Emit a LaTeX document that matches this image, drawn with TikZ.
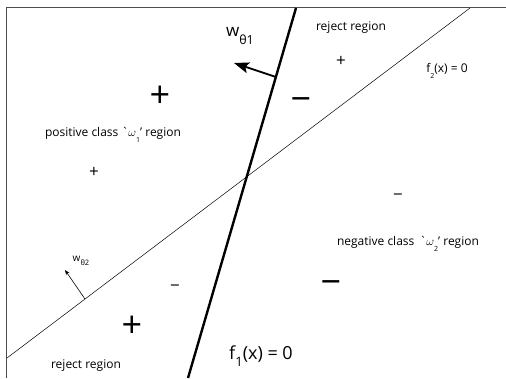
\documentclass[tikz,border=0pt]{standalone}
\usepackage{fontspec}
\setmainfont{Open Sans}
\usetikzlibrary{arrows.meta}

\newcommand{\lowsub}[2][-0.45em]{\raisebox{#1}{\scriptsize #2}}

\begin{document}
\begin{tikzpicture}[x=1pt,y=-1pt,
  lbl/.style={font=\fontsize{12}{14}\selectfont},
  bigsign/.style={font=\fontsize{36}{36}\selectfont,inner sep=0pt},
  smallsign/.style={font=\fontsize{17}{17}\selectfont,inner sep=0pt}]
  \useasboundingbox (0,0) rectangle (506,378);
  % frame, only top and left edges show
  \draw[line width=0.8pt,black!70] (506,7) -- (6.5,7) -- (6.5,378);
  % the two decision lines
  \coordinate (f1top) at (296,8);
  \coordinate (f1bot) at (188,378);
  \draw[line width=2.4pt] (f1top) -- (f1bot);
  \coordinate (f2top) at (470,8);
  \coordinate (f2bot) at (7,358);
  \draw[line width=0.5pt] (f2top) -- (f2bot);
  % normal vectors
  \coordinate (w1foot) at (276,77);
  \coordinate (w1tip) at (234,63);
  \draw[line width=1.8pt,-{Stealth[length=15pt,width=11pt,inset=3pt]}] (w1foot) -- (w1tip);
  \coordinate (w2foot) at (85,299);
  \coordinate (w2tip) at (65,270);
  \draw[line width=0.6pt,-{Stealth[length=5pt,width=4pt]}] (w2foot) -- (w2tip);
  \node[font=\fontsize{17}{18}\selectfont] (w1) at (240,36)
    {w\raisebox{-0.45em}{\fontsize{12.5}{12}\selectfont θ1}};
  \node[font=\fontsize{10}{10}\selectfont] (w2) at (81,261)
    {w\raisebox{-0.4em}{\fontsize{7.5}{7}\selectfont θ2}};
  % region labels
  \node[lbl] (rejtop) at (351,28) {reject region};
  \node[lbl] (rejbot) at (86,366) {reject region};
  \node[lbl] (pos) at (113,135)
    {positive class \textasciigrave$\omega$\lowsub{1}' region};
  \node[lbl] (neg) at (408,244)
    {negative class \,\textasciigrave$\omega$\lowsub{2}' region};
  \node[lbl] (f2lbl) at (447,71) {f\lowsub{2}(x) = 0};
  \node[font=\fontsize{18}{20}\selectfont] (f1lbl) at (261,356)
    {f\lowsub[-0.4em]{\fontsize{13}{13}\selectfont 1}(x) = 0};
  % signs
  \node[bigsign] (p1) at (160,97) {+};
  \node[bigsign] (p2) at (132,327) {+};
  \node[bigsign] (m1) at (301,105) {−};
  \node[bigsign] (m2) at (331,288) {−};
  \node[smallsign] (p3) at (341,61) {+};
  \node[smallsign] (p4) at (94,172) {+};
  \node[smallsign] (m3) at (398,197) {−};
  \node[smallsign] (m4) at (175,288) {−};
\end{tikzpicture}
\end{document}
